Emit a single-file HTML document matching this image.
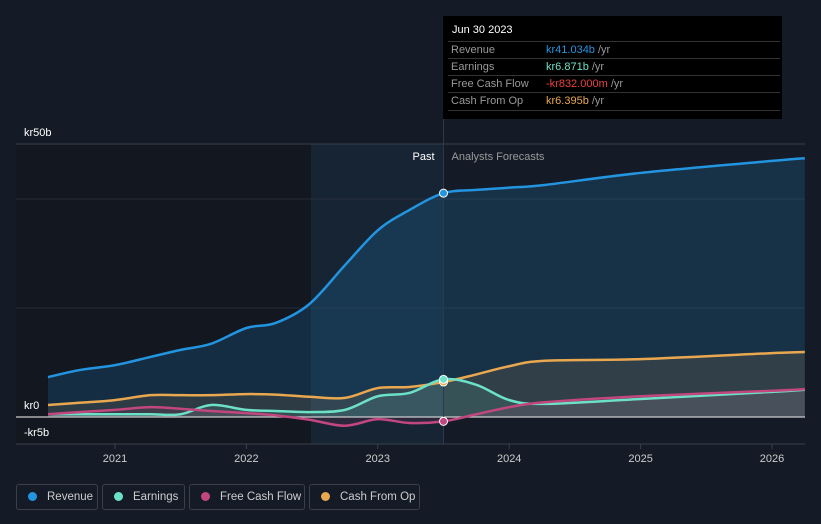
<!DOCTYPE html>
<html><head><meta charset="utf-8"><style>
body{margin:0;background:#151b26;width:821px;height:524px;overflow:hidden;font-family:"Liberation Sans",sans-serif;position:relative}
.tt{position:absolute;left:443px;top:16px;width:339px;height:103px;background:#000;color:#fff;font-size:11px}
.tt .h{position:absolute;left:9px;top:8px;font-size:11px}
.row{position:absolute;left:0;width:332px;height:17px;border-top:1px solid #333;color:#999}
.row span{position:absolute;top:2px;white-space:nowrap}
.leg{position:absolute;top:484px;height:26px;border:1px solid #3a3f4a;border-radius:3px;color:#ccc;font-size:11.5px;box-sizing:border-box;line-height:24px;white-space:nowrap;overflow:hidden}
.leg i{display:inline-block;width:9px;height:9px;border-radius:50%;margin:0 10px 0 11px;vertical-align:-1px}
</style></head><body>
<svg id="c" width="821" height="524" style="position:absolute;left:0;top:0"></svg>
<div class="tt">
<div class="h">Jun 30 2023</div>
<div class="row" style="top:25px;left:5px"><span style="left:3px">Revenue</span><span style="left:98px;color:#2394df">kr41.034b <span style="position:static;color:#999">/yr</span></span></div>
<div class="row" style="top:42px;left:5px"><span style="left:3px">Earnings</span><span style="left:98px;color:#6de0c8">kr6.871b <span style="position:static;color:#999">/yr</span></span></div>
<div class="row" style="top:59px;left:5px"><span style="left:3px">Free Cash Flow</span><span style="left:98px;color:#e8413f">-kr832.000m <span style="position:static;color:#999">/yr</span></span></div>
<div class="row" style="top:76px;left:5px;border-bottom:1px solid #333"><span style="left:3px">Cash From Op</span><span style="left:98px;color:#e9a84f">kr6.395b <span style="position:static;color:#999">/yr</span></span></div>
</div>
<div class="leg" style="left:16px;width:82px"><i style="background:#2394df"></i>Revenue</div>
<div class="leg" style="left:102px;width:83px"><i style="background:#6de0c8"></i>Earnings</div>
<div class="leg" style="left:189px;width:116px"><i style="background:#c2467f"></i>Free Cash Flow</div>
<div class="leg" style="left:309px;width:111px"><i style="background:#e9a84f"></i>Cash From Op</div>
<script>
const years=[2020.49,2020.73,2021,2021.27,2021.5,2021.73,2022,2022.22,2022.48,2022.75,2023,2023.24,2023.5,2023.75,2024,2024.27,2025,2026,2026.25];
const revenue=[7.3,8.6,9.5,11,12.3,13.4,16.3,17.2,20.7,27.8,34.2,37.9,41.0,41.6,42,42.5,44.7,46.9,47.4];
const earnings=[0.5,0.5,0.5,0.5,0.5,2.2,1.3,1.1,0.9,1.3,3.8,4.4,6.9,5.9,3.1,2.4,3.3,4.6,5.0];
const fcf=[0.5,0.9,1.3,1.8,1.5,1.1,0.7,0.3,-0.5,-1.6,-0.4,-1.1,-0.8,0.5,1.8,2.7,3.8,4.8,5.1];
const cfo=[2.2,2.6,3.1,4,4,4,4.2,4.1,3.7,3.5,5.3,5.5,6.4,7.8,9.3,10.3,10.6,11.7,11.9];
const yTicks=[50,0,-5];const yLabels=["kr50b","kr0","-kr5b"];
const xTicks=[2021,2022,2023,2024,2025,2026];
const nowYear=2023.5;
const X=v=>115+(v-2021)*131.4, Y=v=>417-v*5.46;
const s=document.getElementById('c'),NS='http://www.w3.org/2000/svg';
function el(t,a,p){const e=document.createElementNS(NS,t);for(const k in a)e.setAttribute(k,a[k]);(p||s).appendChild(e);return e;}
function path(vals){const p=years.map((y,i)=>[X(y),Y(vals[i])]);let d='M'+p[0];for(let i=0;i<p.length-1;i++){const a=p[i-1]||p[i],b=p[i],c=p[i+1],e=p[i+2]||c;d+=`C${b[0]+(c[0]-a[0])/6},${b[1]+(c[1]-a[1])/6} ${c[0]-(e[0]-b[0])/6},${c[1]-(e[1]-b[1])/6} ${c[0]},${c[1]}`;}return d;}
let r=el('rect',{x:16,y:144,width:295,height:300,fill:'#121720'});
r=el('rect',{x:311,y:144,width:X(nowYear)-311,height:300,fill:'#172434'});
[144,199,308,444].forEach(y=>{const g=el('line',{x1:16,x2:805,y1:y,y2:y,stroke:y==144||y==444?'#3a404a':'#252c37'});});
const ser=[[revenue,'#2394df','revenue'],[cfo,'#e9a84f','cash-from-op'],[earnings,'#6de0c8','earnings'],[fcf,'#c2467f','free-cash-flow']];
ser.forEach(([v,c,n])=>{const a=el('path',{d:path(v)+`L${X(years[years.length-1])},${Y(0)}L${X(years[0])},${Y(0)}Z`,fill:c,'fill-opacity':n=='revenue'?0.18:0.12});});
el('line',{x1:16,x2:805,y1:Y(0),y2:Y(0),stroke:'#ccc','stroke-width':1.2});
ser.forEach(([v,c,n])=>{const l=el('path',{d:path(v),fill:'none',stroke:c,'stroke-width':2.5});});
const nl=el('line',{x1:X(nowYear),x2:X(nowYear),y1:95,y2:444,stroke:'#2a3a4c'});
const ni=years.indexOf(nowYear);
ser.forEach(([v,c,n])=>{const d=el('circle',{cx:X(nowYear),cy:Y(v[ni]),r:4,fill:c,stroke:'#fff','stroke-width':1});});
yTicks.forEach((t,i)=>{const e=el('text',{x:24,y:Y(t)-8+(t==-5?-0:0),fill:'#fff','font-size':11});if(t==-5)e.setAttribute('y',436);e.textContent=yLabels[i];});
xTicks.forEach(t=>{el('line',{x1:X(t),x2:X(t),y1:444,y2:449,stroke:'#3a404a'});const e=el('text',{x:X(t),y:462,fill:'#ccc','font-size':11,'text-anchor':'middle'});e.textContent=t;});
let t=el('text',{x:X(nowYear)-9,y:160,fill:'#fff','font-size':11,'text-anchor':'end'});t.textContent='Past';
t=el('text',{x:X(nowYear)+8,y:160,fill:'#999','font-size':11});t.textContent='Analysts Forecasts';
</script></body></html>
